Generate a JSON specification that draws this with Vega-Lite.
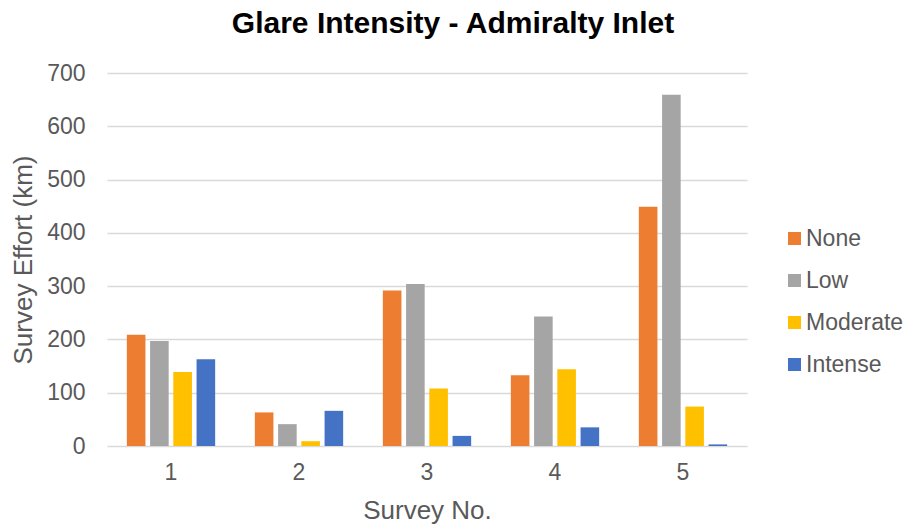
{
  "$schema": "https://vega.github.io/schema/vega-lite/v6.json",
  "width": 640,
  "height": 373,
  "autosize": {"type": "none"},
  "padding": {"left": 107, "top": 73, "right": 160, "bottom": 83},
  "background": "white",
  "config": {"view": {"stroke": null}, "font": "Liberation Sans"},
  "title": {"text": "Glare Intensity - Admiralty Inlet", "fontSize": 30, "font": "Liberation Sans", "fontWeight": "bold", "color": "#000000", "anchor": "middle", "frame": "group", "dx": 26, "offset": 23},
  "data": {"values": [
    {"survey": 1, "glare": "None", "effort": 209},
    {"survey": 1, "glare": "Low", "effort": 197},
    {"survey": 1, "glare": "Moderate", "effort": 139},
    {"survey": 1, "glare": "Intense", "effort": 163},
    {"survey": 2, "glare": "None", "effort": 63},
    {"survey": 2, "glare": "Low", "effort": 41},
    {"survey": 2, "glare": "Moderate", "effort": 9},
    {"survey": 2, "glare": "Intense", "effort": 66},
    {"survey": 3, "glare": "None", "effort": 292},
    {"survey": 3, "glare": "Low", "effort": 304},
    {"survey": 3, "glare": "Moderate", "effort": 108},
    {"survey": 3, "glare": "Intense", "effort": 19},
    {"survey": 4, "glare": "None", "effort": 133},
    {"survey": 4, "glare": "Low", "effort": 243},
    {"survey": 4, "glare": "Moderate", "effort": 144},
    {"survey": 4, "glare": "Intense", "effort": 35},
    {"survey": 5, "glare": "None", "effort": 449},
    {"survey": 5, "glare": "Low", "effort": 659},
    {"survey": 5, "glare": "Moderate", "effort": 74},
    {"survey": 5, "glare": "Intense", "effort": 3}
  ]},
  "mark": {"type": "bar"},
  "encoding": {
    "x": {"field": "survey", "type": "ordinal",
      "scale": {"paddingInner": 0.31, "paddingOuter": 0.155},
      "axis": {"title": "Survey No.", "labelAngle": 0, "ticks": false, "domain": false,
        "labelFontSize": 23, "labelColor": "#595959", "titleFontSize": 26, "titleColor": "#595959",
        "titleFontWeight": "normal", "labelPadding": 15, "titlePadding": 13,
        "labelFont": "Liberation Sans", "titleFont": "Liberation Sans"}},
    "xOffset": {"field": "glare", "type": "nominal", "sort": ["None", "Low", "Moderate", "Intense"],
      "scale": {"paddingInner": 0.2, "paddingOuter": 0}},
    "y": {"field": "effort", "type": "quantitative",
      "scale": {"domain": [0, 700]},
      "axis": {"values": [0, 100, 200, 300, 400, 500, 600, 700], "title": "Survey Effort (km)",
        "grid": true, "gridColor": "#D9D9D9", "gridWidth": 1.5, "domain": false, "ticks": false,
        "labelPadding": 22, "labelFontSize": 23, "labelColor": "#595959",
        "titleFontSize": 26, "titleColor": "#595959", "titleFontWeight": "normal", "titlePadding": 10,
        "labelFont": "Liberation Sans", "titleFont": "Liberation Sans"}},
    "color": {"field": "glare", "type": "nominal",
      "scale": {"domain": ["None", "Low", "Moderate", "Intense"], "range": ["#ED7D31", "#A5A5A5", "#FFC000", "#4472C4"]},
      "legend": {"title": null, "orient": "none", "legendX": 676, "legendY": 154, "symbolType": "square",
        "symbolSize": 169, "labelFontSize": 23, "labelColor": "#595959", "labelFont": "Liberation Sans",
        "rowPadding": 18, "symbolStrokeWidth": 0, "labelOffset": 0}}
  }
}
